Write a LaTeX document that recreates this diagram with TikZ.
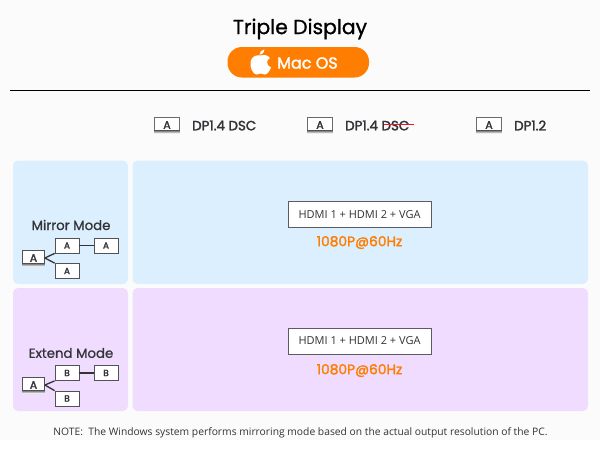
\documentclass[tikz,border=0pt]{standalone}
\usepackage{fontspec}
\setmainfont{Poppins}
\newfontfamily\medfont[FakeBold=1]{Poppins}
\newfontfamily\semifont[FakeBold=2]{Poppins}
\newfontfamily\notefont{Open Sans}
\newfontfamily\hdmifont{Open Sans}
\definecolor{pagebg}{HTML}{FBFBFB}
\definecolor{bluebg}{HTML}{DCEFFF}
\definecolor{purplebg}{HTML}{EFDCFE}
\definecolor{orng}{HTML}{FF7D00}
\definecolor{ink}{HTML}{333338}
\definecolor{shade}{HTML}{6E6A68}
\definecolor{strikered}{RGB}{240,20,30}
\tikzset{
 panel/.style={rounded corners=5pt,draw=none},
 capbox/.style={draw=shade,line width=.7pt,fill=white,minimum width=25pt,minimum height=16pt,inner sep=0,font=\semifont\fontsize{11}{11}\selectfont,text=ink},
 bigbox/.style={draw=ink!80,line width=.8pt,fill=white,minimum width=143pt,minimum height=26pt,inner sep=0,font=\hdmifont\fontsize{11}{11}\selectfont,text=ink},
 mini/.style={draw=ink!85,line width=.8pt,fill=white,minimum width=24pt,minimum height=15pt,inner sep=0,font=\semifont\fontsize{9}{9}\selectfont,text=ink},
 link/.style={draw=ink,line width=1.3pt},
 dplabel/.style={anchor=west,font=\semifont\fontsize{13.4}{13.4}\selectfont,text=ink,inner sep=0},
 modelabel/.style={font=\medfont\fontsize{13.3}{13.3}\selectfont,text=ink,inner sep=0},
 hz/.style={font=\semifont\fontsize{13.8}{13.8}\selectfont,text=orng,inner sep=0},
}
\newcommand{\capbar}[1]{\fill[shade] ([yshift=0pt]#1.south west) rectangle ([yshift=2.5pt]#1.south east);}
\begin{document}
\begin{tikzpicture}[x=1pt,y=-1pt]
\useasboundingbox (0,0) rectangle (600,450);
\fill[white] (0,0) rectangle (600,450);
\fill[pagebg] (0,0) rectangle (600,440);
% title
\node[inner sep=0,font=\medfont\fontsize{20.3}{20.3}\selectfont,text=black] (title) at (300,29) {Triple Display};
\fill[orng,rounded corners=14.5pt] (227.5,47) rectangle (369,77.5);
\node[inner sep=0,font=\semifont\fontsize{16}{16}\selectfont,text=white,anchor=west] (mac) at (277,63) {Mac OS};
% apple
\fill[white] (260,55.5) .. controls (263,54.8) and (268,54.5) .. (270,58)
 .. controls (266,60) and (266,65.5) .. (271,67.5)
 .. controls (269.5,71.5) and (267,74.5) .. (265,74.5)
 .. controls (263,74.5) and (262,73.5) .. (260.5,73.5)
 .. controls (259,73.5) and (258,74.5) .. (256.5,74.5)
 .. controls (253,74.5) and (249.5,67) .. (250.5,62)
 .. controls (251.5,55.5) and (257,55) .. (260,55.5) -- cycle;
\fill[white] (259.5,54.8) .. controls (259.5,52) and (261.5,50) .. (264.5,49.5)
 .. controls (264.5,52.5) and (262.5,54.5) .. (259.5,54.8) -- cycle;
% rule
\draw[black,line width=.9pt] (10,90.5) -- (590,90.5);
% header
\node[capbox] (c1) at (167,125) {A}; \capbar{c1}
\node[dplabel] (d1) at (192,125.5) {DP1.4 DSC};
\node[capbox] (c2) at (320,125) {A}; \capbar{c2}
\node[dplabel] (d2) at (345,125.5) {DP1.4 DSC};
\draw[draw=strikered,line width=1.1pt] (384,124.5) -- (413.5,124.5);
\node[capbox] (c3) at (489,125) {A}; \capbar{c3}
\node[dplabel] (d3) at (514,125.5) {DP1.2};
% panels
\fill[panel,fill=bluebg] (13,160.5) rectangle (128,284);
\fill[panel,fill=bluebg] (132.5,160.5) rectangle (588,284);
\fill[panel,fill=purplebg] (13,288) rectangle (128,411);
\fill[panel,fill=purplebg] (132.5,288) rectangle (588,411);
% mirror
\node[modelabel] (m) at (71,225) {Mirror Mode};
\node[mini,minimum height=16pt,minimum width=22pt,font=\semifont\fontsize{11}{11}\selectfont] (ma) at (33.5,258) {A}; \capbar{ma}
\node[mini] (mb) at (67,245.5) {A};
\node[mini] (mc) at (106,245.5) {A};
\node[mini] (md) at (67,271) {A};
\draw[link] (ma.east) -- (mb.south west);
\draw[link] (ma.east) -- (md.north west);
\draw[link] (mb) -- (mc);
\node[bigbox] (h1) at (359.5,214.5) {HDMI 1 + HDMI 2 + VGA};
\node[hz] (z1) at (359.5,242.5) {1080P@60Hz};
% extend
\node[modelabel] (e) at (71,353) {Extend Mode};
\node[mini,minimum height=16pt,minimum width=22pt,font=\semifont\fontsize{11}{11}\selectfont] (ea) at (33.5,385) {A}; \capbar{ea}
\node[mini] (eb) at (67,373) {B};
\node[mini] (ec) at (106,373) {B};
\node[mini] (ed) at (67,398.5) {B};
\draw[link] (ea.east) -- (eb.south west);
\draw[link] (ea.east) -- (ed.north west);
\draw[link] (eb) -- (ec);
\node[bigbox] (h2) at (359.5,341) {HDMI 1 + HDMI 2 + VGA};
\node[hz] (z2) at (359.5,370.5) {1080P@60Hz};
% note
\node[inner sep=0,font=\notefont\fontsize{10.3}{10.3}\selectfont,text=ink] (note) at (300.5,433) {NOTE:\ \ The Windows system performs mirroring mode based on the actual output resolution of the PC.};
\end{tikzpicture}
\end{document}
